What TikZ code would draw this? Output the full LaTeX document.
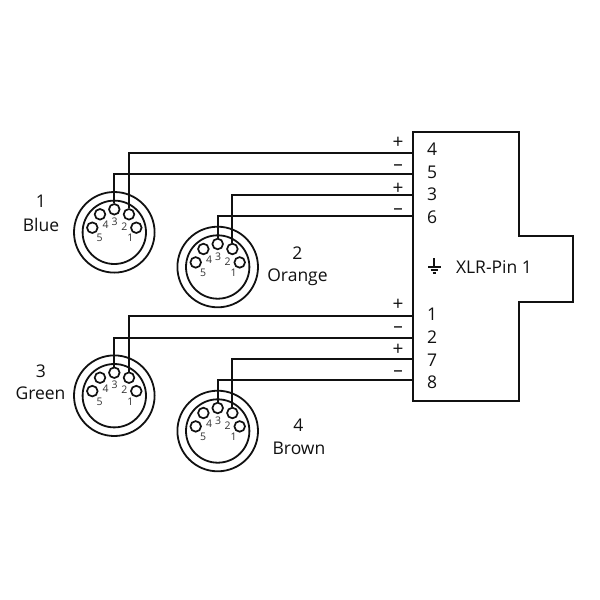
\documentclass[tikz,border=0pt]{standalone}
\usepackage{fontspec}
\setmainfont{Open Sans}
\definecolor{ink}{HTML}{111111}
\definecolor{pinlabel}{HTML}{333333}
\tikzset{
  x=1pt,y=-1pt,
  wire/.style={draw=ink,line width=2.1pt},
  ring/.style={circle,draw=ink,line width=1.8pt,inner sep=0pt,fill=none},
  pinhole/.style={circle,draw=ink,line width=1.7pt,inner sep=0pt,minimum size=10.6pt},
  pinnum/.style={text=pinlabel,font=\fontsize{10.5}{11}\selectfont,inner sep=0pt},
  lbl/.style={text=ink,font=\fontsize{17.5}{19}\selectfont,inner sep=0pt},
  sign/.style={text=ink,font=\fontsize{19}{20}\selectfont,inner sep=0pt},
  din/.pic={
    \node[ring,minimum size=80.6pt] (-outer) at (0,0) {};
    \node[ring,minimum size=63.4pt] (-inner) at (0,0) {};
    \node[pinhole] (-p1) at (22,-4.6) {};
    \node[pinhole] (-p2) at (14.7,-18) {};
    \node[pinhole] (-p3) at (0,-23) {};
    \node[pinhole] (-p4) at (-14.3,-18) {};
    \node[pinhole] (-p5) at (-22,-4.6) {};
    \node[pinnum] (-n1) at (16,5.7) {1};
    \node[pinnum] (-n2) at (10,-5.6) {2};
    \node[pinnum] (-n3) at (0.3,-10.6) {3};
    \node[pinnum] (-n4) at (-8.6,-7.3) {4};
    \node[pinnum] (-n5) at (-14.6,5.7) {5};
  }
}
\begin{document}
\begin{tikzpicture}
\useasboundingbox[fill=white] (0,0) rectangle (600,600);
% XLR housing
\draw[wire,line join=miter] (413.3,131.7) -- (518.7,131.7) -- (518.7,235.7) -- (573.3,235.7)
  -- (573.3,302.3) -- (518.7,302.3) -- (518.7,401.3) -- (413.3,401.3) -- cycle;
\foreach \n/\y in {a/152.7,b/174,c/195,d/216.3,e/316,f/338.3,g/359,h/380}
  \coordinate (end\n) at (413.3,\y);
% connectors
\pic (c1) at (114.3,232.3) {din};
\pic (c2) at (217.7,267) {din};
\pic (c3) at (114.3,395.7) {din};
\pic (c4) at (217.7,431) {din};
% wires
\draw[wire] (c1-p2.north) |- (enda);
\draw[wire] (c1-p3.north) |- (endb);
\draw[wire] (c2-p2.north) |- (endc);
\draw[wire] (c2-p3.north) |- (endd);
\draw[wire] (c3-p2.north) |- (ende);
\draw[wire] (c3-p3.north) |- (endf);
\draw[wire] (c4-p2.north) |- (endg);
\draw[wire] (c4-p3.north) |- (endh);
% connector labels
\node[lbl] (t1a) at (41,201.5) {1};
\node[lbl] (t1b) at (41,224.5) {Blue};
\node[lbl] (t2a) at (297.5,253.5) {2};
\node[lbl] (t2b) at (297.5,277) {Orange};
\node[lbl] (t3a) at (41,371.5) {3};
\node[lbl] (t3b) at (40.5,393.5) {Green};
\node[lbl] (t4a) at (298.5,425.5) {4};
\node[lbl] (t4b) at (299,448.5) {Brown};
% XLR pin numbers
\node[lbl] (x4) at (432,149.5) {4};
\node[lbl] (x5) at (432,172.5) {5};
\node[lbl] (x3) at (432,194.5) {3};
\node[lbl] (x6) at (432,217.5) {6};
\node[lbl] (x1) at (432,314.5) {1};
\node[lbl] (x2) at (432,337.5) {2};
\node[lbl] (x7) at (432,360.5) {7};
\node[lbl] (x8) at (432,382.5) {8};
% polarity
\node[sign] (s1) at (398,142.5) {+};
\node[sign] (s2) at (398,168) {–};
\node[sign] (s3) at (398,188.5) {+};
\node[sign] (s4) at (398,212) {–};
\node[sign] (s5) at (398,304.5) {+};
\node[sign] (s6) at (398,330) {–};
\node[sign] (s7) at (398,349.5) {+};
\node[sign] (s8) at (398,374) {–};
% ground
\draw[draw=ink,line width=1.7pt] (434.3,258) -- (434.3,267);
\draw[draw=ink,line width=1.7pt] (428.3,266.7) -- (440.6,266.7);
\draw[draw=ink,line width=1.7pt] (430.6,269.8) -- (438.3,269.8);
\draw[draw=ink,line width=1.7pt] (432.6,272.7) -- (436.2,272.7);
\node[lbl] (xlr) at (494,267) {XLR-Pin 1};
\end{tikzpicture}
\end{document}
